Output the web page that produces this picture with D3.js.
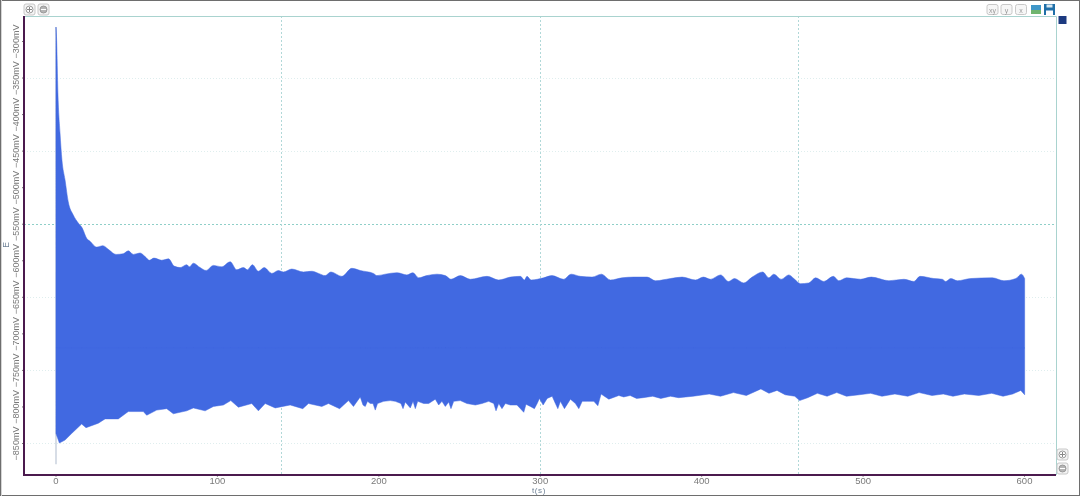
<!DOCTYPE html>
<html>
<head>
<meta charset="utf-8">
<script src="https://cdn.jsdelivr.net/npm/d3@7"></script>
<style>
  html, body { margin: 0; padding: 0; background: #fff; }
  svg { display: block; font-family: "Liberation Sans", Arial, sans-serif; filter: blur(0.35px); }
</style>
</head>
<body>
<svg id="chart" width="1080" height="496"></svg>
<script>
// Signal envelope: time in s, potential in mV
const upperT = [0.3,0.7,1.5,2.8,4,5.9,7.9,11,14.1,16.6,19.3,21.4,25.5,29.3,32.7,37.5,42,45.1,48.2,52.4,55.5,58.2,61,65.8,70,73.5,77.2,81.3,83,85.4,89.6,93.3,97.8,103,108.2,112.3,116.4,118.9,122,125.7,129.3,134,138.1,141.2,146.4,153.6,158.8,163,167,170.6,177.4,183.6,188.8,197,199.1,204.3,211.5,217.7,221.4,225,230,236.3,241.5,245,250.8,257,267.3,274.6,281.8,288,290.5,292.1,294.6,302.4,307.6,314.8,319.4,325.2,332.4,338.2,343.8,351,358.2,366.5,371.7,381,388.2,396.5,401.3,405.8,412,417,420.6,426.4,431.6,438.2,441.9,445,449.6,454.3,457.4,461.6,466.7,470.9,476,481.9,485.3,490.1,498.8,505.4,516.3,525.6,531.8,535.6,544.2,549.4,551.5,554.6,558.7,566.9,580.4,587.6,594.9,598.4,600.4];
const upperV = [-281,-299,-371,-426,-463,-490,-520,-538,-549,-556,-570,-574,-582,-580,-585,-592,-591,-587,-592,-590,-595,-600,-597,-600,-598,-608,-610,-606,-609,-604,-610,-614,-607,-609,-602,-613,-610,-613,-606,-615,-610,-618,-614,-616,-612,-616,-615,-618,-621,-616,-622,-611,-614,-618,-621,-619,-617,-620,-617,-624,-621,-619,-621,-626,-621,-626,-622,-627,-623,-622,-627,-622,-627,-624,-621,-626,-619,-622,-623,-619,-627,-624,-623,-623,-628,-625,-623,-627,-623,-626,-620,-629,-625,-631,-623,-616,-624,-619,-626,-620,-625,-632,-631,-624,-629,-622,-628,-624,-626,-623,-628,-626,-629,-622,-625,-626,-629,-625,-628,-625,-624,-628,-625,-619,-625];
const lowerT = [0.3,2.4,5.9,10,16.2,18.9,26.5,30.7,38.9,45.1,54.4,56.5,62.7,68.9,73,81.3,85.4,92.7,97.8,104,108.6,113.3,121.6,125.7,129.9,136.1,145.4,153.2,156.7,165,169.1,176,181.5,184.6,188.8,190.5,191.9,193.3,195,196.7,198.1,199.5,203.3,207.4,210.5,214,215.3,216.7,219.8,221.5,222.9,224.4,228.1,231.2,235.3,237.4,239.4,241.5,243.6,245,246.7,250.8,254.9,260.1,264.2,268.4,271.5,272.9,274.6,276.6,278.7,281.8,285.9,290.1,291.5,294.2,296.7,298.4,299.8,302.1,304.6,307.7,309.7,311.2,312.8,315.3,319,322.1,324.2,326.3,329.4,333.5,336,338,340.7,342.8,349,352,356,360,364,370,375,381,386,395,405,412,420,428,437,442,447,452,458,461,466,472,478,484,490,498,505,512,520,528,535,543,550,556,563,572,580,587,593,598,600.4];
const lowerV = [-837,-850,-846,-837,-824,-829,-823,-817,-817,-807,-807,-812,-805,-803,-810,-806,-802,-806,-800,-798,-792,-801,-796,-806,-796,-802,-798,-803,-796,-800,-796,-803,-792,-800,-787,-798,-800,-793,-796,-796,-805,-796,-793,-792,-793,-796,-803,-794,-802,-793,-803,-793,-796,-796,-790,-798,-793,-800,-794,-803,-793,-792,-796,-798,-796,-793,-796,-806,-796,-803,-796,-798,-798,-808,-797,-800,-803,-796,-789,-798,-789,-786,-796,-803,-793,-803,-790,-796,-803,-793,-793,-793,-799,-783,-787,-790,-785,-787,-785,-789,-788,-786,-789,-786,-788,-786,-783,-786,-781,-785,-776,-782,-778,-784,-786,-792,-788,-782,-786,-781,-786,-784,-782,-786,-783,-786,-781,-785,-783,-786,-783,-785,-782,-786,-783,-778,-784];
const spikeV = [-281, -879];

const xTicks = [0, 100, 200, 300, 400, 500, 600];
const yTicks = [-300, -350, -400, -450, -500, -550, -600, -650, -700, -750, -800, -850];
const xGrid = [140, 300, 460];
const yGridStrong = [-550];
const yGridFaint = [-350, -450, -650, -750, -850];
const midV = -720;

const svg = d3.select("#chart");
const W = 1080, H = 496;
const plot = { left: 24, right: 1056, top: 16, bottom: 475 };

// Scales are anchored on the tick positions of the original
const x = d3.scaleLinear().domain([0, 600]).range([55.5, 1024]);
const y = d3.scaleLinear().domain([-300, -850]).range([41, 443]);

// Image frame
svg.append("rect").attr("x", 0.5).attr("y", 0.5).attr("width", W - 1).attr("height", H - 1)
    .attr("fill", "#fff").attr("stroke", "#6e6e6e");
svg.append("line").attr("x1", 1.5).attr("x2", 1.5).attr("y1", 0).attr("y2", H).attr("stroke", "#d5d5d5");

// Grid
svg.append("g").selectAll("line").data(yGridFaint).join("line")
    .attr("x1", plot.left).attr("x2", plot.right)
    .attr("y1", d => Math.round(y(d)) + 0.5).attr("y2", d => Math.round(y(d)) + 0.5)
    .attr("stroke", "#dfeeee").attr("stroke-dasharray", "1,2");
svg.append("g").selectAll("line").data(yGridStrong).join("line")
    .attr("x1", plot.left).attr("x2", plot.right)
    .attr("y1", d => Math.round(y(d)) + 0.5).attr("y2", d => Math.round(y(d)) + 0.5)
    .attr("stroke", "#8fcfc8").attr("stroke-dasharray", "2,2");
svg.append("g").selectAll("line").data(xGrid).join("line")
    .attr("x1", d => Math.round(x(d)) + 0.5).attr("x2", d => Math.round(x(d)) + 0.5)
    .attr("y1", plot.top).attr("y2", plot.bottom)
    .attr("stroke", "#b0d8d8").attr("stroke-dasharray", "2,2");

// Top and right frame of the plot
svg.append("path").attr("fill", "none").attr("stroke", "#a9d3cf")
    .attr("d", `M${plot.left},${plot.top + 0.5}H${plot.right + 0.5}V${plot.bottom}`);

// Thin first sweep at t = 0
svg.append("line")
    .attr("x1", x(0) + 0.5).attr("x2", x(0) + 0.5)
    .attr("y1", y(spikeV[0])).attr("y2", y(spikeV[1]))
    .attr("stroke", "#bcc6d6").attr("stroke-width", 1.2);

// Envelope: two areas meeting on a common middle value
const upperArea = d3.area().curve(d3.curveMonotoneX)
    .x((d, i) => x(upperT[i])).y0(y(midV)).y1((d, i) => y(upperV[i]));
const lowerArea = d3.area()
    .x((d, i) => x(lowerT[i])).y0(y(midV)).y1((d, i) => y(lowerV[i]));
svg.append("path").datum(upperV).attr("d", upperArea).attr("fill", "#4169e1")
    .attr("stroke", "#4169e1").attr("stroke-width", 0.5);
svg.append("path").datum(lowerV).attr("d", lowerArea).attr("fill", "#4169e1")
    .attr("stroke", "#4169e1").attr("stroke-width", 0.5);

// Axes
const xAxis = d3.axisBottom(x).tickValues(xTicks).tickSize(2).tickPadding(0.5).tickFormat(d3.format("d"));
const gx = svg.append("g").attr("transform", `translate(0,${plot.bottom})`).call(xAxis);
gx.select(".domain").remove();
gx.selectAll("line").attr("stroke", "#999");
gx.selectAll("text").attr("fill", "#7a7a7a").attr("font-size", 9.5);

const yAxis = d3.axisLeft(y).tickValues(yTicks).tickSize(2).tickFormat(d => "\u2212" + Math.abs(d) + "mV");
const gy = svg.append("g").attr("transform", `translate(${plot.left},0)`).call(yAxis);
gy.select(".domain").remove();
gy.selectAll("line").attr("stroke", "#777");
gy.selectAll("text")
    .attr("fill", "#7a7a7a").attr("font-size", 9)
    .attr("text-anchor", "middle").attr("dy", 0)
    .attr("x", 0).attr("y", 0)
    .attr("transform", "translate(-5,0) rotate(-90)");

// Heavy left and bottom axis lines
svg.append("path").attr("fill", "none").attr("stroke", "#4b1a4e").attr("stroke-width", 2)
    .attr("d", `M${plot.left},${plot.top}V${plot.bottom}H${plot.right}`);

// Axis titles
svg.append("text").attr("x", 539).attr("y", 493).attr("text-anchor", "middle")
    .attr("font-size", 8).attr("fill", "#6f8296").attr("letter-spacing", 0.6).text("t(s)");
svg.append("text").attr("transform", "translate(9,245) rotate(-90)").attr("text-anchor", "middle")
    .attr("font-size", 8.5).attr("fill", "#6f8296").text("E");

// Toolbar buttons
function zoomButton(cx, cy, plus) {
    const g = svg.append("g").attr("transform", `translate(${cx},${cy})`);
    g.append("rect").attr("x", -5.5).attr("y", -5.5).attr("width", 11).attr("height", 11).attr("rx", 2)
        .attr("fill", "#f4f4f4").attr("stroke", "#c8c8c8");
    g.append("circle").attr("r", 3.5).attr("fill", plus ? "#fff" : "#b5b5b5").attr("stroke", "#999");
    g.append("line").attr("x1", -2.5).attr("x2", 2.5).attr("stroke", plus ? "#888" : "#fff");
    if (plus) g.append("line").attr("y1", -2.5).attr("y2", 2.5).attr("stroke", "#888");
}
zoomButton(29.5, 9.5, true);
zoomButton(43.5, 9.5, false);
zoomButton(1062.5, 454.5, true);
zoomButton(1062.5, 468.5, false);

const toolLabels = ["xy", "y", "x"];
const toolX = [992.5, 1006.5, 1021];
toolLabels.forEach((t, i) => {
    const g = svg.append("g").attr("transform", `translate(${toolX[i]},9.5)`);
    g.append("rect").attr("x", -5.5).attr("y", -5).attr("width", 11).attr("height", 10).attr("rx", 2)
        .attr("fill", "#f6f6f6").attr("stroke", "#c8c8c8");
    g.append("text").attr("text-anchor", "middle").attr("y", 3).attr("font-size", 7).attr("fill", "#999").text(t);
});

// Picture icon
const pic = svg.append("g").attr("transform", "translate(1031,5)");
pic.append("rect").attr("width", 10).attr("height", 9).attr("fill", "#3f97c9");
pic.append("rect").attr("y", 5).attr("width", 10).attr("height", 4).attr("fill", "#6fb56f");

// Save icon
const sv = svg.append("g").attr("transform", "translate(1044,4)");
sv.append("rect").attr("width", 11).attr("height", 11).attr("fill", "#1f6fa8");
sv.append("rect").attr("x", 2.5).attr("y", 0.5).attr("width", 6).attr("height", 3).attr("fill", "#d8e8f2");
sv.append("rect").attr("x", 2).attr("y", 6.5).attr("width", 7).attr("height", 4.5).attr("fill", "#fff");

// Legend swatch
svg.append("rect").attr("x", 1058.5).attr("y", 16).attr("width", 8).attr("height", 8).attr("fill", "#1c3a80");
</script>
</body>
</html>
